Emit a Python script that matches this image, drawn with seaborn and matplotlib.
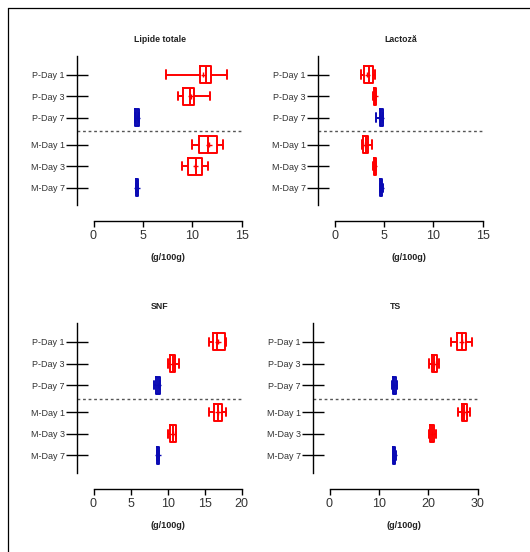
import numpy as np
import pandas as pd
import matplotlib
matplotlib.use("Agg")
import matplotlib.pyplot as plt
from matplotlib.lines import Line2D
import seaborn as sns

# ---- data (five-number readings per group: min, Q1, median, Q3, max) ----
groups = ["P-Day 1", "P-Day 3", "P-Day 7", "M-Day 1", "M-Day 3", "M-Day 7"]
group_pos = [0, 1, 2, 3.25, 4.25, 5.25]
group_kind = ["early", "early", "late", "early", "early", "late"]

lipide_box = [[7.3, 10.8, 11.4, 11.9, 13.5],
              [8.6, 9.1, 9.8, 10.2, 11.8],
              [4.2, 4.25, 4.4, 4.6, 4.65],
              [10.0, 10.7, 11.6, 12.55, 13.15],
              [9.0, 9.6, 10.35, 10.95, 11.55],
              [4.28, 4.32, 4.4, 4.48, 4.52]]
lipide_mean = [11.1, 9.85, 4.4, 11.7, 10.3, 4.4]

lactoza_box = [[2.65, 2.97, 3.45, 3.9, 4.1],
               [3.92, 4.0, 4.1, 4.2, 4.25],
               [4.2, 4.6, 4.72, 4.86, 4.92],
               [2.75, 2.85, 3.15, 3.4, 3.75],
               [3.92, 3.98, 4.05, 4.15, 4.2],
               [4.6, 4.65, 4.72, 4.82, 4.86]]
lactoza_mean = [3.3, 4.1, 4.7, 3.1, 4.05, 4.72]

snf_box = [[15.6, 16.1, 16.7, 17.75, 17.9],
           [10.0, 10.35, 10.7, 11.0, 11.55],
           [8.1, 8.45, 8.7, 8.95, 9.0],
           [15.6, 16.2, 16.8, 17.35, 17.9],
           [10.0, 10.35, 10.75, 11.1, 11.2],
           [8.55, 8.62, 8.7, 8.8, 8.9]]
snf_mean = [16.8, 10.7, 8.7, 16.8, 10.7, 8.7]

ts_box = [[24.5, 25.9, 26.75, 27.6, 28.9],
          [20.1, 20.7, 21.1, 21.7, 22.2],
          [12.7, 12.8, 13.1, 13.5, 13.6],
          [26.1, 26.75, 27.3, 27.9, 28.4],
          [20.1, 20.3, 20.8, 21.2, 21.5],
          [12.9, 12.95, 13.1, 13.3, 13.4]]
ts_mean = [26.8, 21.1, 13.1, 27.3, 20.8, 13.1]

titles = ["Lipide totale", "Lactoză", "SNF", "TS"]
x_max = [15, 15, 20, 30]
x_ticks = [[0, 5, 10, 15], [0, 5, 10, 15], [0, 5, 10, 15, 20], [0, 10, 20, 30]]
x_label = "(g/100g)"

PAL = {"early": "#ff0000", "late": "#0a0ab4"}

sns.set_theme(style="white")
plt.rcParams["font.family"] = ["Liberation Sans", "DejaVu Sans"]

fig = plt.figure(figsize=(5.3, 5.52), dpi=100)
W, H = 530, 552

# axes rectangles in pixels: left, top, right, bottom
rects = [(77.3, 56, 241.7, 205), (318.3, 56, 482.7, 205),
         (77.3, 323.3, 241.7, 472.7), (313.3, 323.3, 477.7, 472.7)]
spine_gap_px = 16.2

panels = [(lipide_box, lipide_mean), (lactoza_box, lactoza_mean),
          (snf_box, snf_mean), (ts_box, ts_mean)]

for i, ((box, means), r) in enumerate(zip(panels, rects)):
    l, t, rr, b = r
    ax = fig.add_axes([l / W, 1 - b / H, (rr - l) / W, (b - t) / H])
    rows = []
    for g, p, k, vals in zip(groups, group_pos, group_kind, box):
        for v in vals:
            rows.append({"group": g, "pos": p, "kind": k, "value": v})
    df = pd.DataFrame(rows)
    sns.boxplot(data=df, x="value", y="pos", hue="kind", palette=PAL,
                orient="h", native_scale=True, fill=False, whis=(0, 100),
                width=0.78, linewidth=1.4, dodge=False, legend=False,
                showfliers=False, ax=ax)
    mdf = pd.DataFrame({"pos": group_pos, "mean": means, "kind": group_kind})
    sns.scatterplot(data=mdf, x="mean", y="pos", hue="kind", palette=PAL,
                    marker="+", s=14, linewidth=1.0, legend=False, ax=ax)

    xm = x_max[i]
    xmin = -spine_gap_px * xm / (rr - l - spine_gap_px)
    ax.set_xlim(xmin, xm)
    ax.set_ylim(6.05, -0.86)
    ax.axhline(2.625, color="#555555", lw=1.0, ls=(0, (2, 2)))

    ax.set_yticks(group_pos)
    ax.set_yticklabels(groups)
    ax.set_xticks(x_ticks[i])
    ax.set_xticklabels([str(v) for v in x_ticks[i]])
    ax.set_ylabel("")
    ax.set_xlabel(x_label, fontsize=6.5, fontweight="bold", color="#222222")
    frac = (xm / 2 - xmin) / (xm - xmin)
    ax.xaxis.set_label_coords(frac, -0.325)
    ax.set_title(titles[i], fontsize=6.3, fontweight="bold", pad=10.4,
                 color="#222222")

    for s in ["top", "right"]:
        ax.spines[s].set_visible(False)
    for s in ["left", "bottom"]:
        ax.spines[s].set_color("black")
        ax.spines[s].set_linewidth(1.0)
    ax.spines["bottom"].set_position(("outward", 11.5))
    ax.spines["bottom"].set_bounds(0, xm)
    ax.tick_params(axis="y", direction="inout", length=15.5, width=1.0,
                   pad=1.2, labelsize=6.5, labelcolor="#333333", color="black",
                   left=True)
    ax.tick_params(axis="x", direction="out", length=4, width=1.0, pad=2.5,
                   labelsize=9, labelcolor="#333333", color="black",
                   bottom=True)
    ax.grid(False)

# outer frame (top and left lines)
fig.add_artist(Line2D([8 / W, 1], [1 - 8 / H, 1 - 8 / H],
                      transform=fig.transFigure, color="black", lw=0.9))
fig.add_artist(Line2D([8 / W, 8 / W], [0, 1 - 8 / H],
                      transform=fig.transFigure, color="black", lw=0.9))

fig.savefig("out.png", dpi=100)
